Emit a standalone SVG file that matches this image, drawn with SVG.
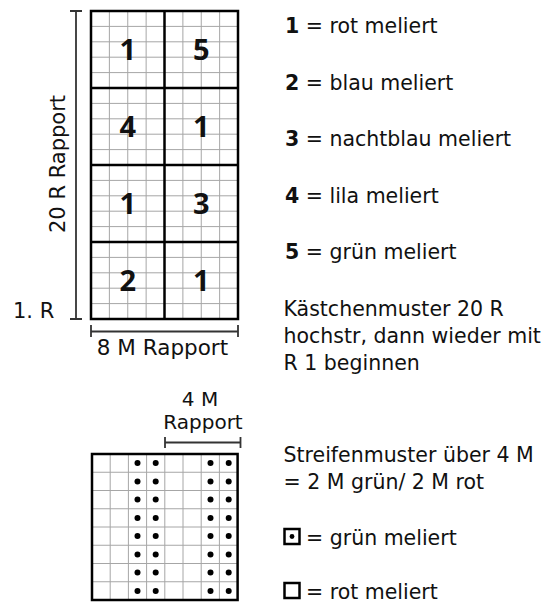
<svg xmlns="http://www.w3.org/2000/svg" width="543" height="603" viewBox="0 0 543 603">
  <defs>
    <style>
      text { font-family: "DejaVu Sans", "Liberation Sans", sans-serif; fill: #111; }
      .lbl { font-size: 21px; }
      .leg { font-size: 20.5px; }
      .num { font-family: "Open Sans", "Noto Sans", "Liberation Sans", sans-serif; font-size: 29px; font-weight: bold; text-anchor: middle; }
      .b { font-weight: bold; }
      .thin { fill: none; stroke: #a6a6a6; stroke-width: 1; }
      .thick { fill: none; stroke: #000; stroke-width: 2.5; }
      .dim { fill: none; stroke: #333; stroke-width: 1.8; }
      .sym { fill: #fff; stroke: #000; stroke-width: 2.5; }
    </style>
    <circle id="dot" r="3" fill="#000"/>
  </defs>
  <rect width="543" height="603" fill="#fff"/>

  <!-- top grid -->
  <g id="grid-top">
    <rect x="91" y="11" width="147" height="308" fill="#fff"/>
    <path class="thin" d="M109.375 11V319M127.75 11V319M146.125 11V319M182.875 11V319M201.25 11V319M219.625 11V319
      M91 26.4H238M91 41.8H238M91 57.2H238M91 72.6H238
      M91 103.4H238M91 118.8H238M91 134.2H238M91 149.6H238
      M91 180.4H238M91 195.8H238M91 211.2H238M91 226.6H238
      M91 257.4H238M91 272.8H238M91 288.2H238M91 303.6H238"/>
    <path class="thick" d="M164.5 11V319M91 88H238M91 165H238M91 242H238"/>
    <rect class="thick" x="91" y="11" width="147" height="308"/>
    <text class="num" x="127.75" y="60">1</text>
    <text class="num" x="201.25" y="60">5</text>
    <text class="num" x="127.75" y="137">4</text>
    <text class="num" x="201.25" y="137">1</text>
    <text class="num" x="127.75" y="214">1</text>
    <text class="num" x="201.25" y="214">3</text>
    <text class="num" x="127.75" y="291">2</text>
    <text class="num" x="201.25" y="291">1</text>
  </g>

  <!-- dimension lines -->
  <g id="connectors">
    <path class="dim" d="M76 11V319M70 11H82M70 319H82"/>
    <path class="dim" d="M91 331.5H238M91 325V337M238 325V337"/>
    <path class="dim" d="M165 442.5H240.5M165 437V448M240.5 437V448"/>
  </g>

  <g id="labels">
    <text class="lbl" transform="translate(65,164) rotate(-90)" text-anchor="middle">20 R Rapport</text>
    <text class="lbl" x="13" y="318">1. R</text>
    <text class="lbl" x="162.5" y="355" text-anchor="middle" style="font-size:21.5px">8 M Rapport</text>
    <text class="lbl" x="200" y="405.5" text-anchor="middle" style="font-size:20px">4 M</text>
    <text class="lbl" x="203" y="429" text-anchor="middle" style="font-size:20px">Rapport</text>
  </g>

  <!-- bottom grid -->
  <g id="grid-bottom">
    <rect x="92" y="454" width="145.6" height="146" fill="#fff"/>
    <path class="thin" d="M110.2 454V600M128.4 454V600M146.6 454V600M164.8 454V600M183 454V600M201.2 454V600M219.4 454V600
      M92 472.25H237.6M92 490.5H237.6M92 508.75H237.6M92 527H237.6M92 545.25H237.6M92 563.5H237.6M92 581.75H237.6"/>
    <rect class="thick" x="92" y="454" width="145.6" height="146"/>
    <g id="dots">
      <use href="#dot" x="137.5" y="463.1"/><use href="#dot" x="155.7" y="463.1"/><use href="#dot" x="210.5" y="463.1"/><use href="#dot" x="228.7" y="463.1"/>
      <use href="#dot" x="137.5" y="481.4"/><use href="#dot" x="155.7" y="481.4"/><use href="#dot" x="210.5" y="481.4"/><use href="#dot" x="228.7" y="481.4"/>
      <use href="#dot" x="137.5" y="499.6"/><use href="#dot" x="155.7" y="499.6"/><use href="#dot" x="210.5" y="499.6"/><use href="#dot" x="228.7" y="499.6"/>
      <use href="#dot" x="137.5" y="517.9"/><use href="#dot" x="155.7" y="517.9"/><use href="#dot" x="210.5" y="517.9"/><use href="#dot" x="228.7" y="517.9"/>
      <use href="#dot" x="137.5" y="536.1"/><use href="#dot" x="155.7" y="536.1"/><use href="#dot" x="210.5" y="536.1"/><use href="#dot" x="228.7" y="536.1"/>
      <use href="#dot" x="137.5" y="554.4"/><use href="#dot" x="155.7" y="554.4"/><use href="#dot" x="210.5" y="554.4"/><use href="#dot" x="228.7" y="554.4"/>
      <use href="#dot" x="137.5" y="572.6"/><use href="#dot" x="155.7" y="572.6"/><use href="#dot" x="210.5" y="572.6"/><use href="#dot" x="228.7" y="572.6"/>
      <use href="#dot" x="137.5" y="590.9"/><use href="#dot" x="155.7" y="590.9"/><use href="#dot" x="210.5" y="590.9"/><use href="#dot" x="228.7" y="590.9"/>
    </g>
  </g>

  <!-- legend -->
  <g id="legend">
    <text class="leg" x="285" y="33"><tspan class="b">1</tspan> = rot meliert</text>
    <text class="leg" x="285" y="89.5"><tspan class="b">2</tspan> = blau meliert</text>
    <text class="leg" x="285" y="146"><tspan class="b">3</tspan> = nachtblau meliert</text>
    <text class="leg" x="285" y="202.5"><tspan class="b">4</tspan> = lila meliert</text>
    <text class="leg" x="285" y="259"><tspan class="b">5</tspan> = grün meliert</text>
    <text class="leg" x="283.5" y="316">Kästchenmuster 20 R</text>
    <text class="leg" x="283.5" y="343">hochstr, dann wieder mit</text>
    <text class="leg" x="283.5" y="370">R 1 beginnen</text>
    <text class="leg" x="283.5" y="461.5">Streifenmuster über 4 M</text>
    <text class="leg" x="283.5" y="488.5">= 2 M grün/ 2 M rot</text>
    <rect class="sym" x="284.5" y="529" width="15" height="15"/>
    <circle cx="292" cy="536.5" r="2.4" fill="#000"/>
    <text class="leg" x="306" y="545">= grün meliert</text>
    <rect class="sym" x="284.5" y="583" width="15" height="15"/>
    <text class="leg" x="306" y="598.5">= rot meliert</text>
  </g>
</svg>
